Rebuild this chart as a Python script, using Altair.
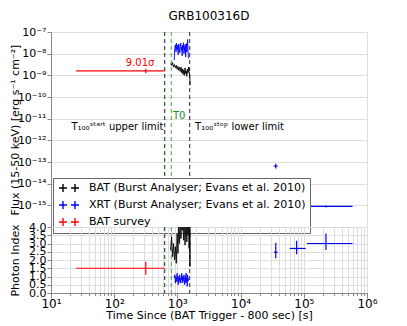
import altair as alt
import pandas as pd

# ---------------- data ----------------
S_BAT = "BAT (Burst Analyser; Evans et al. 2010)"
S_XRT = "XRT (Burst Analyser; Evans et al. 2010)"
S_SUR = "BAT survey"

bat_t = [780, 810, 840, 870, 900, 930, 960, 990, 1020, 1050, 1080, 1110, 1140, 1170, 1200,
         1230, 1260, 1290, 1320, 1350, 1380, 1410, 1440, 1470, 1500, 1530, 1560, 1580, 1590]
bat_flux_e9 = [3.5, 2.8, 3.9, 2.4, 3.1, 2.2, 2.9, 1.9, 2.6, 1.7, 2.3, 1.5, 2.4, 1.3, 2.0,
               1.1, 1.8, 1.0, 2.2, 1.2, 1.6, 0.9, 1.9, 1.3, 2.4, 1.5, 1.1, 0.6, 0.35]
bat_index = [2.6, 3.4, 2.2, 3.0, 2.0, 2.8, 1.8, 3.6, 2.4, 4.2, 3.0, 4.5, 3.3, 4.8, 3.8,
             4.1, 3.2, 4.6, 2.9, 3.9, 4.4, 3.1, 4.7, 3.5, 4.3, 2.7, 3.8, 1.6, 4.5]

xrt_t = [890, 910, 930, 950, 970, 990, 1010, 1030, 1050, 1070, 1090, 1110, 1130, 1150, 1170,
         1190, 1210, 1230, 1250, 1270, 1290, 1310, 1330, 1350, 1370, 1390, 1410, 1430, 1450,
         1470, 1490]
xrt_flux_e8 = [0.5, 1.8, 2.6, 1.2, 3.0, 1.5, 2.4, 0.9, 2.8, 1.6, 1.1, 2.2, 3.1, 1.4, 2.0,
               0.8, 2.5, 1.7, 3.2, 1.0, 2.1, 1.3, 2.7, 0.7, 1.9, 2.9, 1.2, 2.3, 4.5, 1.5, 0.6]
xrt_index = [0.9, 1.1, 0.6, 1.0, 0.7, 1.2, 0.8, 0.5, 1.0, 0.7, 1.1, 0.6, 0.9, 0.8, 1.2,
             0.6, 1.0, 0.7, 0.9, 1.1, 0.5, 0.8, 1.0, 0.6, 1.2, 0.7, 0.9, 0.4, 1.1, 0.7, 0.9]

late_t = [36000, 77000, 224000]
late_t_lo = [33500, 60000, 112000]
late_t_hi = [38500, 107000, 590000]
late_flux = [6.5e-14, 9.5e-15, 8.9e-16]
late_flux_lo = [5.0e-14, 8.5e-15, 8.0e-16]
late_flux_hi = [8.3e-14, 1.05e-14, 9.8e-16]
late_index = [2.47, 2.7, 3.0]
late_index_lo = [2.1, 2.35, 2.6]
late_index_hi = [3.05, 3.17, 3.6]

sur_t = [316]
sur_t_lo = [25]
sur_t_hi = [630]
sur_flux = [1.6e-9]
sur_flux_lo = [1.25e-9]
sur_flux_hi = [2.0e-9]
sur_index = [1.5]
sur_index_lo = [1.1]
sur_index_hi = [1.9]

vline_t = [630, 800, 1566]
vline_color = ["#222222", "#44aa44", "#222222"]

ann_text = ["T₁₀₀ˢᵗᵃʳᵗ upper limit", "T0", "T₁₀₀ˢᵗᵒᵖ lower limit", "9.01σ"]
ann_t = [600, 850, 1900, 257]
ann_flux = [4e-12, 1.4e-11, 4e-12, 3.7e-9]
ann_align = ["right", "left", "left", "center"]
ann_color = ["black", "#228822", "black", "red"]

x_major = [10, 100, 1000, 1e4, 1e5, 1e6]
x_minor_mult = [2, 3, 4, 5, 6, 7, 8, 9]
f_major = [1e-7, 1e-8, 1e-9, 1e-10, 1e-11, 1e-12, 1e-13, 1e-14, 1e-15]
i_ticks = [0, 0.5, 1, 1.5, 2, 2.5, 3, 3.5, 4]

series_names = [S_BAT, S_XRT, S_SUR]
series_colors = ["#000000", "#0000ff", "#ff0000"]

# ---------------- frames ----------------
bat_df = pd.DataFrame({"t": bat_t, "flux": [v * 1e-9 for v in bat_flux_e9],
                       "idx": bat_index, "series": S_BAT})
xrt_df = pd.DataFrame({"t": xrt_t, "flux": [v * 1e-8 for v in xrt_flux_e8],
                       "idx": xrt_index, "series": S_XRT})
late_df = pd.DataFrame({"t": late_t, "t_lo": late_t_lo, "t_hi": late_t_hi,
                        "flux": late_flux, "flux_lo": late_flux_lo, "flux_hi": late_flux_hi,
                        "idx": late_index, "idx_lo": late_index_lo, "idx_hi": late_index_hi,
                        "series": S_XRT})
sur_df = pd.DataFrame({"t": sur_t, "t_lo": sur_t_lo, "t_hi": sur_t_hi,
                       "flux": sur_flux, "flux_lo": sur_flux_lo, "flux_hi": sur_flux_hi,
                       "idx": sur_index, "idx_lo": sur_index_lo, "idx_hi": sur_index_hi,
                       "series": S_SUR})
vl_df = pd.DataFrame({"t": vline_t, "c": vline_color, "k": list(range(len(vline_t)))})
ann_df = pd.DataFrame({"text": ann_text, "t": ann_t, "flux": ann_flux,
                       "k": list(range(len(ann_text)))})

x_ticks = list(x_major) + [m * d for d in x_major[:-1] for m in x_minor_mult]

FONT = "DejaVu Sans"
FS = 11
E = "round(log(datum.value)/LN10)"
IS_MAJOR = f"abs(log(datum.value)/LN10 - {E}) < 1e-6"

def sup_expr():
    digits = "['⁰','¹','²','³','⁴','⁵','⁶','⁷','⁸','⁹']"
    return (f"({IS_MAJOR}) ? ('10' + ({E} < 0 ? '⁻' : '') + (abs({E}) >= 10 ? '¹' : '') + "
            f"{digits}[abs({E}) % 10]) : ''")

xscale = alt.Scale(type="log", domain=[10, 1e6])
x_axis_bot = alt.Axis(values=x_ticks, labelExpr=sup_expr(),
                      title="Time Since (BAT Trigger - 800 sec) [s]",
                      tickSize={"condition": {"test": IS_MAJOR, "value": 5}, "value": 2.5},
                      labelFontSize=12, titleFontSize=FS, titleFontWeight="normal",
                      labelPadding=0, titlePadding=0, labelFont=FONT, titleFont=FONT,
                      labelOverlap=False, labelFlush=False)

fscale = alt.Scale(type="log", domain=[1e-16, 1e-7])
f_axis = alt.Axis(values=f_major,
                  labelExpr=sup_expr(), title="Flux (15-50 keV) [erg s⁻¹ cm⁻²]",
                  titleX=-31, tickSize=4, labelFontSize=11, titleFontSize=FS,
                  titleFontWeight="normal", labelFont=FONT, titleFont=FONT,
                  labelOverlap=False, labelFlush=False, labelPadding=1)

iscale = alt.Scale(domain=[0, 4])
i_axis = alt.Axis(values=i_ticks, format=".1f",
                  title="Photon Index", titleX=-31, tickSize=4, labelFontSize=11,
                  titleFontSize=FS, titleFontWeight="normal", labelFont=FONT,
                  titleFont=FONT, labelOverlap=False, labelFlush=False, labelPadding=1)

cscale = alt.Scale(domain=series_names, range=series_colors)
legend = alt.Legend(title=None, orient="none", legendX=2, legendY=146, fillColor="white",
                    strokeColor="#666666", padding=4, labelFontSize=11, labelFont=FONT,
                    symbolType="M-2,0H-0.4M-1.2,-0.8V0.8M0.4,0H2M1.2,-0.8V0.8",
                    symbolSize=100, symbolStrokeWidth=1.4, symbolOpacity=1,
                    rowPadding=3, labelLimit=400,
                    cornerRadius=0, symbolOffset=6, labelOffset=14)

def color_enc(show_legend):
    if show_legend:
        return alt.Color("series:N", scale=cscale, legend=legend)
    return alt.Color("series:N", scale=cscale, legend=None)


def panel(yfield, ylo, yhi, yscale, yaxis, xaxis, top):
    X = lambda f: alt.X(f, type="quantitative", scale=xscale, axis=xaxis)
    Y = lambda f: alt.Y(f, type="quantitative", scale=yscale, axis=yaxis)
    layers = []
    for k, c in enumerate(vline_color):
        layers.append(
            alt.Chart(vl_df).transform_filter(alt.datum.k == k).mark_rule(
                strokeDash=[4, 3], strokeWidth=1, color=c).encode(x=X("t")))
    bat = alt.Chart(bat_df).mark_line(strokeWidth=0.9, clip=True).encode(
        x=X("t"), y=Y(yfield), color=color_enc(top))
    xrt = alt.Chart(xrt_df).mark_line(strokeWidth=0.9, clip=True).encode(
        x=X("t"), y=Y(yfield), color=color_enc(top))
    late_x = alt.Chart(late_df).mark_rule(strokeWidth=1.2, opacity=1).encode(
        x=X("t_lo"), x2="t_hi", y=Y(yfield), color=color_enc(top))
    late_y = alt.Chart(late_df).mark_rule(strokeWidth=1.2, opacity=1).encode(
        x=X("t"), y=Y(ylo), y2=yhi, color=color_enc(top))
    sur_x = alt.Chart(sur_df).mark_rule(strokeWidth=1.2, opacity=1).encode(
        x=X("t_lo"), x2="t_hi", y=Y(yfield), color=color_enc(top))
    sur_y = alt.Chart(sur_df).mark_rule(strokeWidth=1.2, opacity=1).encode(
        x=X("t"), y=Y(ylo), y2=yhi, color=color_enc(top))
    layers += [bat, xrt, late_x, late_y, sur_x, sur_y]
    if top:
        for k, (al, c) in enumerate(zip(ann_align, ann_color)):
            layers.append(
                alt.Chart(ann_df).transform_filter(alt.datum.k == k).mark_text(
                    fontSize=10, font=FONT, baseline="middle", align=al, color=c).encode(
                    x=X("t"), y=Y("flux"), text="text:N"))
    return alt.layer(*layers)


top = panel("flux", "flux_lo", "flux_hi", fscale, f_axis, None, True).properties(
    width=316, height=195,
    title=alt.TitleParams("GRB100316D", fontSize=12, fontWeight="normal", font=FONT,
                          offset=3, frame="group"))
bottom = panel("idx", "idx_lo", "idx_hi", iscale, i_axis, x_axis_bot, False).properties(
    width=316, height=66)

chart = alt.vconcat(top, bottom, spacing=0, bounds="flush").resolve_scale(
    color="independent", x="independent").resolve_legend(color="independent").properties(
    padding={"left": 0, "top": 1, "right": 5, "bottom": 0}
).configure_view(stroke="black", strokeWidth=1).configure_axis(
    grid=False, domainColor="black", tickColor="black", labelColor="black",
    titleColor="black"
).configure(background="white")

chart.save("out.html", embed_options={"renderer": "svg", "actions": False})
